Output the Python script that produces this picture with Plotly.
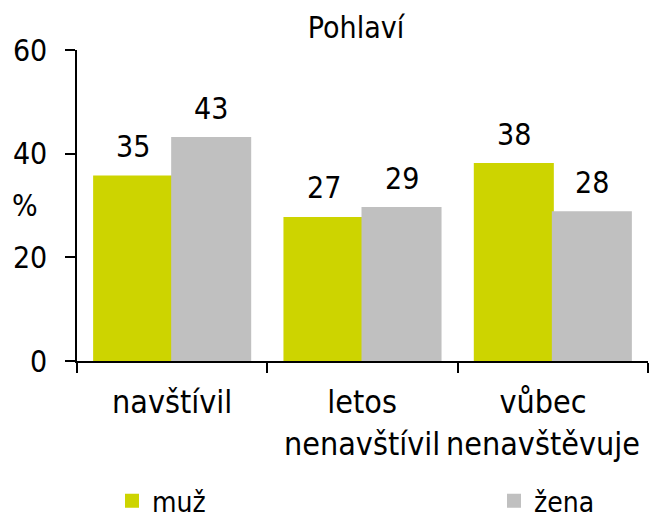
import plotly.graph_objects as go

categories = ["navštívil", "letos<br>nenavštívil", "vůbec<br>nenavštěvuje"]
series_names = ["muž", "žena"]
muz_values = [35.6, 27.6, 38.0]
zena_values = [43.0, 29.5, 28.7]
muz_labels = ["35", "27", "38"]
zena_labels = ["43", "29", "28"]
y_ticks = [0, 20, 40, 60]
title_text = "Pohlaví"
y_title = "%"

FONT = "DejaVu Sans Condensed, DejaVu Sans, sans-serif"
FS = 30
muz_color = "#CDD400"
zena_color = "#C0C0C0"

fig = go.Figure()
fig.add_trace(go.Bar(x=categories, y=muz_values, name=series_names[0], legend="legend",
                     marker=dict(color=muz_color, line=dict(width=2, color=muz_color))))
fig.add_trace(go.Bar(x=categories, y=zena_values, name=series_names[1], legend="legend2",
                     marker=dict(color=zena_color, line=dict(width=2, color=zena_color))))

annotations = []
# value labels
for cat, v, lab in zip(categories, muz_values, muz_labels):
    annotations.append(dict(x=cat, y=v, xref="x", yref="y", text=lab, showarrow=False,
                            xshift=-39, yshift=30, yanchor="middle",
                            font=dict(family=FONT, size=FS, color="#000")))
for cat, v, lab in zip(categories, zena_values, zena_labels):
    annotations.append(dict(x=cat, y=v, xref="x", yref="y", text=lab, showarrow=False,
                            xshift=39, yshift=30, yanchor="middle",
                            font=dict(family=FONT, size=FS, color="#000")))
# category labels
cat_shifts = [0, -1, -10]
for cat, sh in zip(categories, cat_shifts):
    annotations.append(dict(x=cat, y=0, xref="x", yref="paper", text=cat, showarrow=False,
                            xshift=sh, yshift=-19.5, yanchor="top", xanchor="center",
                            font=dict(family=FONT, size=32, color="#000")))
# y title
annotations.append(dict(x=0, y=30, xref="paper", yref="y", text=y_title, showarrow=False,
                        xshift=-52, xanchor="center", yanchor="middle",
                        font=dict(family=FONT, size=FS, color="#000")))

legend_common = dict(orientation="h", xref="container", yref="container",
                     xanchor="left", yanchor="middle",
                     font=dict(family=FONT, size=28, color="#000"),
                     bgcolor="rgba(0,0,0,0)")

fig.update_layout(
    width=650, height=518,
    margin=dict(l=77, r=2, t=49.5, b=157, autoexpand=False),
    paper_bgcolor="white", plot_bgcolor="white",
    barmode="group", bargap=0.18, bargroupgap=0,
    font=dict(family=FONT, size=FS, color="#000"),
    title=dict(text=title_text, x=356/650, xref="container", xanchor="center",
               y=1-27/518, yref="container", yanchor="middle",
               font=dict(family=FONT, size=FS, color="#000")),
    showlegend=True,
    legend=dict(legend_common, x=112/650, y=17/518),
    legend2=dict(legend_common, x=494/650, y=17/518),
    annotations=annotations,
)
fig.update_xaxes(showticklabels=False, showline=True, linecolor="#000", linewidth=1.5,
                 ticks="outside", tickson="boundaries", ticklen=10, tickwidth=1.5,
                 tickcolor="#000", showgrid=False, zeroline=False)
fig.update_yaxes(range=[0, 60], tickvals=y_ticks, showline=True, linecolor="#000",
                 linewidth=1.5, ticks="outside", ticklen=10, tickwidth=1.5, tickcolor="#000",
                 showgrid=False, zeroline=False, ticklabelstandoff=12,
                 tickfont=dict(family=FONT, size=FS, color="#000"))

fig.write_html("out.html", config={"displayModeBar": False},
               post_script="document.body.style.margin='0';document.body.style.overflow='hidden';")
